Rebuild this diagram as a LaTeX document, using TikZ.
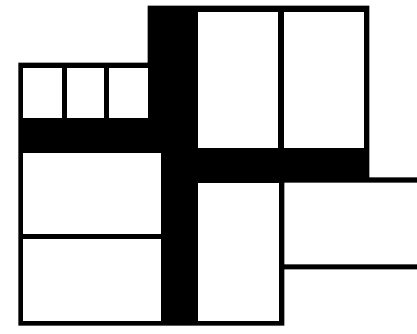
\documentclass[tikz,border=0pt]{standalone}
\begin{document}
\begin{tikzpicture}[x=1pt,y=-1pt,
  wallfill/.style={fill=black,draw=none},
  room/.style={fill=white,draw=none}]
\useasboundingbox (0,0) rectangle (417,333);
\fill[white] (0,0) rectangle (417,333);
% outer building mass (walls and dark corridors)
\path[wallfill] (18.3,62.7) -- (147.7,62.7) -- (147.7,5.7) -- (369.3,5.7) -- (369.3,177.3)
  -- (417,177.3) -- (417,182.7) -- (284.3,182.7) -- (284.3,264.3) -- (417,264.3)
  -- (417,269.3) -- (284.3,269.3) -- (284.3,325.7) -- (18.3,325.7) -- cycle;
% rooms
\path[room] (23.3,68.3) rectangle (61.7,118.3);
\path[room] (66.7,68.3) rectangle (104,118.3);
\path[room] (109.3,68.3) rectangle (147.7,118.3);
\path[room] (197.7,12.3) rectangle (278.3,147.7);
\path[room] (284.3,12.3) rectangle (364,147.7);
\path[room] (23.3,153.3) rectangle (160.7,234);
\path[room] (23.3,239.3) rectangle (160.7,320.7);
\path[room] (197.7,182.7) rectangle (279.3,320.7);
\end{tikzpicture}
\end{document}
